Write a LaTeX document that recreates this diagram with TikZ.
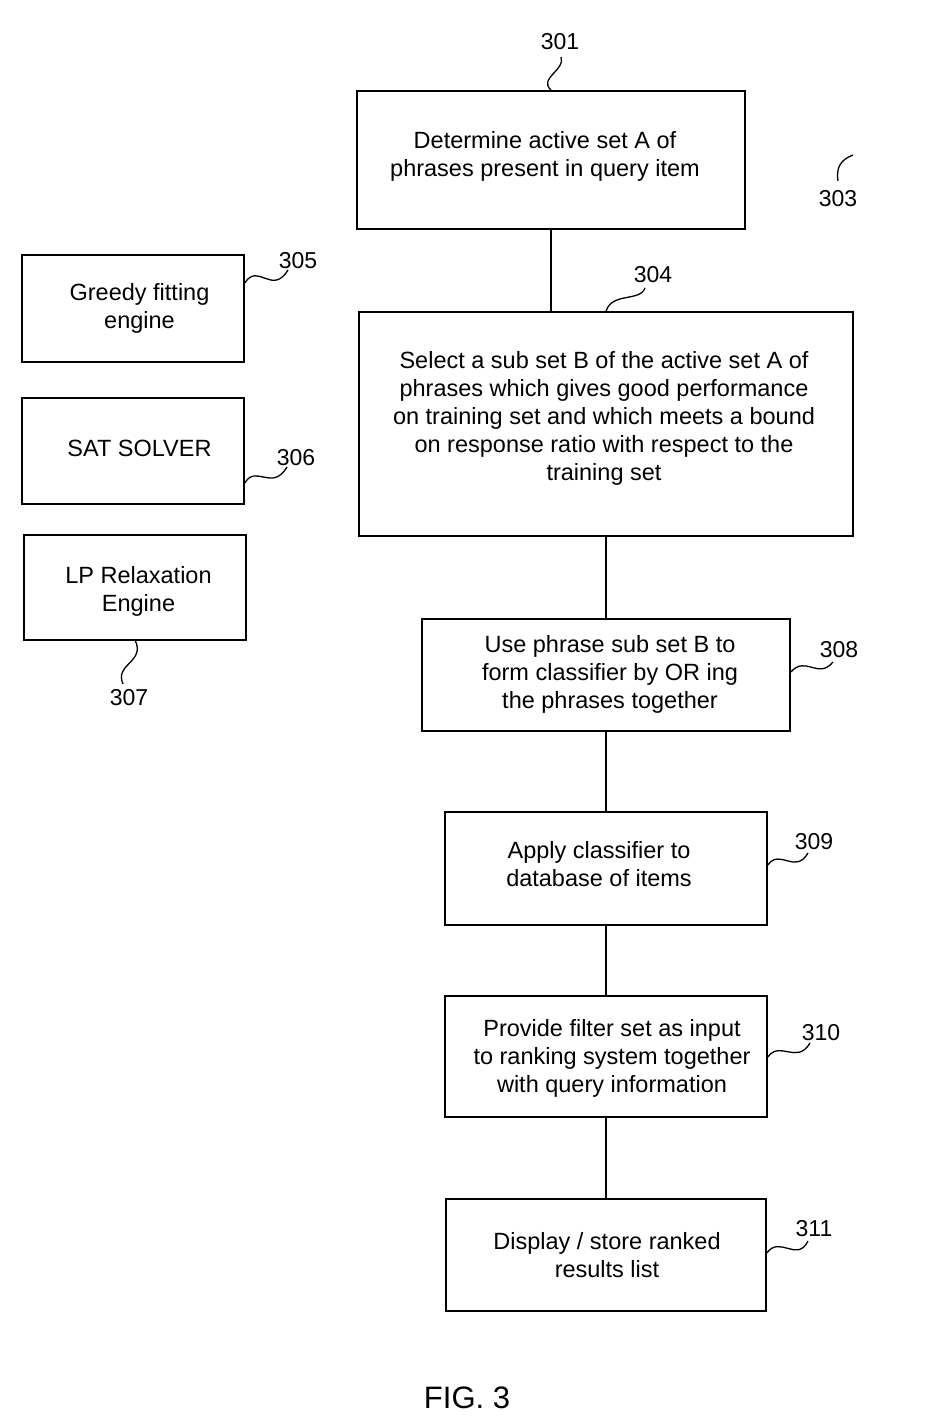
\documentclass[tikz,border=0pt]{standalone}
\usepackage{fontspec}
\setmainfont{Liberation Sans}
\begin{document}
\begin{tikzpicture}[x=1pt,y=-1pt,
  box/.style={draw, line width=1.6pt, rectangle, inner sep=0pt},
  txt/.style={align=center, inner sep=0pt, font=\fontsize{23.5}{28}\selectfont},
  lbl/.style={font=\fontsize{23}{28}\selectfont, inner sep=0pt},
  conn/.style={line width=1.6pt},
  sq/.style={line width=1.3pt}]
\path[use as bounding box] (0,0) rectangle (931,1427);
% main flow boxes
\node[box, minimum width=388pt, minimum height=138pt] (b301) at (551,160) {};
\node[box, minimum width=494pt, minimum height=224pt] (b304) at (606,424) {};
\node[box, minimum width=368pt, minimum height=112pt] (b308) at (606,675) {};
\node[box, minimum width=322pt, minimum height=113pt] (b309) at (606,868.5) {};
\node[box, minimum width=322pt, minimum height=121pt] (b310) at (606,1056.5) {};
\node[box, minimum width=320pt, minimum height=112pt] (b311) at (606,1255) {};
% side boxes
\node[box, minimum width=222pt, minimum height=107pt] (b305) at (133,308.5) {};
\node[box, minimum width=222pt, minimum height=106pt] (b306) at (133,451) {};
\node[box, minimum width=222pt, minimum height=105pt] (b307) at (135,587.5) {};
% box texts
\node[txt] (t301) at (545,156) {Determine active set A of\\phrases present in query item};
\node[txt] (t304) at (604,418) {Select a sub set B of the active set A of\\phrases which gives good performance\\on training set and which meets a bound\\on response ratio with respect to the\\training set};
\node[txt] (t308) at (610,674) {Use phrase sub set B to\\form classifier by OR ing\\the phrases together};
\node[txt] (t309) at (599,864.5) {Apply classifier to\\database of items};
\node[txt] (t310) at (612,1058) {Provide filter set as input\\to ranking system together\\with query information};
\node[txt] (t311) at (607,1255) {Display / store ranked\\results list};
\node[txt] (t305) at (139.5,308) {Greedy fitting\\engine};
\node[txt] (t306) at (139.5,448) {SAT SOLVER};
\node[txt] (t307) at (138.5,591) {LP Relaxation\\Engine};
% connectors
\draw[conn] (b301.south) -- (b301.south |- b304.north);
\draw[conn] (b304.south) -- (b308.north);
\draw[conn] (b308.south) -- (b309.north);
\draw[conn] (b309.south) -- (b310.north);
\draw[conn] (b310.south) -- (b311.north);
% reference labels
\node[lbl] (l301) at (560,42) {301};
\node[lbl] (l303) at (838,199) {303};
\node[lbl] (l304) at (653,275) {304};
\node[lbl] (l305) at (298,261) {305};
\node[lbl] (l306) at (296,458) {306};
\node[lbl] (l307) at (129,698) {307};
\node[lbl] (l308) at (839,650) {308};
\node[lbl] (l309) at (814,842) {309};
\node[lbl] (l310) at (821,1033) {310};
\node[lbl] (l311) at (814,1229) {311};
% squiggle ends
\coordinate (s301) at (561,57);
\coordinate (s303a) at (853,155);
\coordinate (s303b) at (838,181);
\coordinate (s304) at (645,288);
\coordinate (s305) at (288,270);
\coordinate (s306) at (287,467);
\coordinate (s307) at (123,684);
\coordinate (s308) at (833,662);
\coordinate (s309) at (808,853);
\coordinate (s310) at (810,1043);
\coordinate (s311) at (808,1241);
% squiggles
\draw[sq] (b301.north) .. controls (538,78) and (566,70) .. (s301);
\draw[sq] (s303a) .. controls (840,160) and (836,168) .. (s303b);
\draw[sq] (b304.north) .. controls (612,292) and (640,302) .. (s304);
\draw[sq] (b305.east |- 0,283) .. controls (258,262) and (272,296) .. (s305);
\draw[sq] (b306.east |- 0,483) .. controls (256,464) and (272,492) .. (s306);
\draw[sq] (b307.south |- 0,640) .. controls (146,662) and (114,664) .. (s307);
\draw[sq] (b308.east |- 0,672) .. controls (806,655) and (818,680) .. (s308);
\draw[sq] (b309.east |- 0,865) .. controls (780,848) and (795,875) .. (s309);
\draw[sq] (b310.east |- 0,1057) .. controls (780,1040) and (797,1065) .. (s310);
\draw[sq] (b311.east |- 0,1253) .. controls (780,1235) and (797,1263) .. (s311);
% figure caption
\node[font=\fontsize{31}{36}\selectfont, inner sep=0pt] (fig) at (467,1398) {FIG. 3};
\end{tikzpicture}
\end{document}
